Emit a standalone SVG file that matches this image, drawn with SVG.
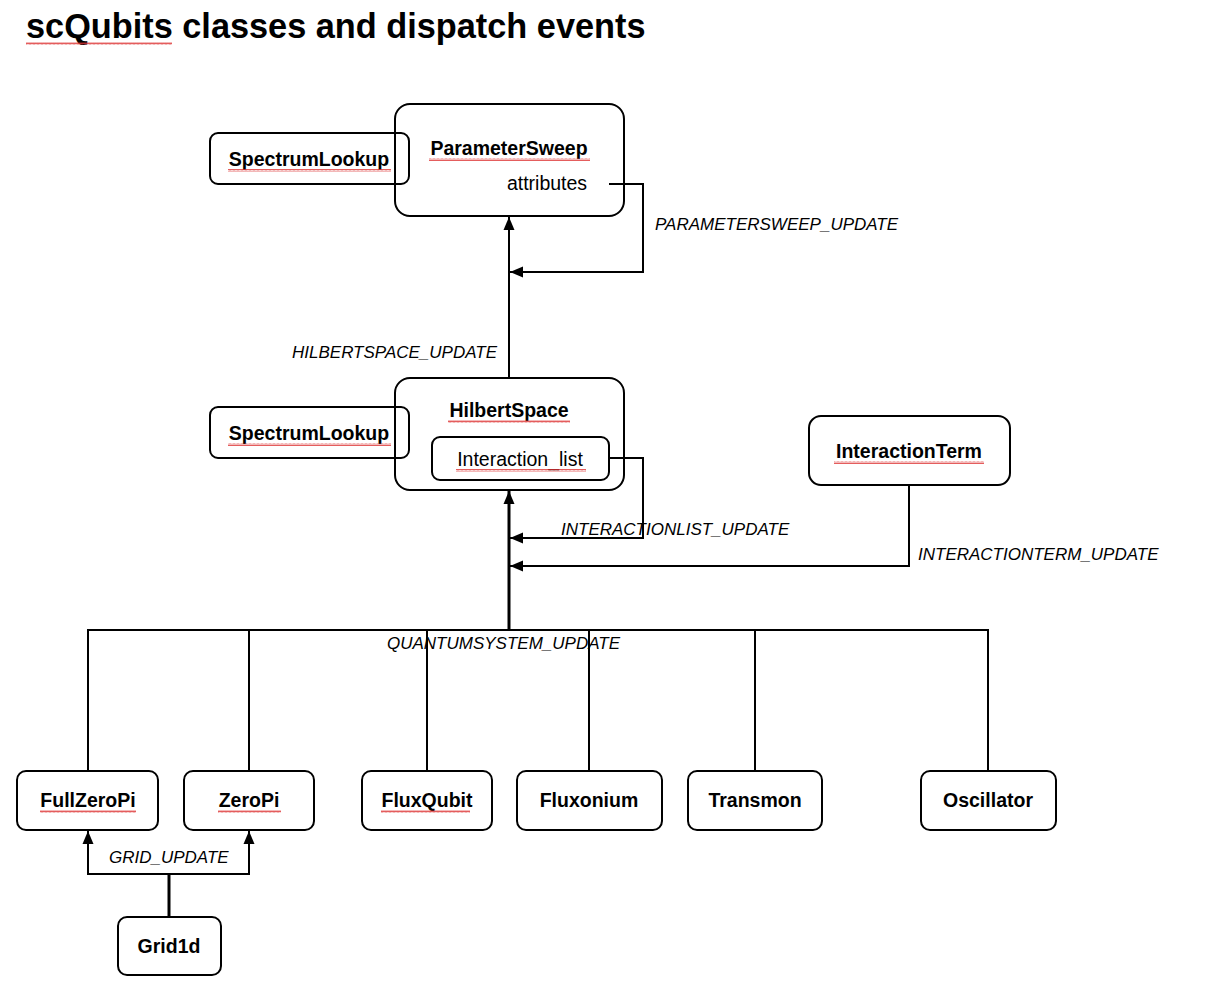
<svg xmlns="http://www.w3.org/2000/svg" width="1226" height="986" viewBox="0 0 1226 986">
<style>
.box{fill:none;stroke:#000;stroke-width:2}
.b{font-family:"Liberation Sans",Arial,sans-serif;font-weight:bold;font-size:19.5px;fill:#000;text-anchor:middle}
.r{font-family:"Liberation Sans",Arial,sans-serif;font-size:19.5px;fill:#000;text-anchor:middle}
.lbl{font-family:"Liberation Sans",Arial,sans-serif;font-style:italic;font-size:17px;fill:#000}
.c{fill:none;stroke:#000;stroke-width:2}
.trunk{fill:none;stroke:#000;stroke-width:3}
.sq{fill:url(#wave)}
</style>
<defs>
<marker id="ah" markerUnits="userSpaceOnUse" markerWidth="13" markerHeight="12" viewBox="0 0 13 12" refX="13" refY="6" orient="auto">
<path d="M0,0.5 L13,6 L0,11.5 Z" fill="#000"/>
</marker>
<pattern id="wave" patternUnits="userSpaceOnUse" width="4" height="3">
<path d="M0,2.5 L1,0.5 L2,2.5 L3,0.5 L4,2.5" fill="none" stroke="#d33" stroke-width="0.8"/>
</pattern>
</defs>
<rect width="1226" height="986" fill="#fff"/>
<text x="26" y="38" font-family="'Liberation Sans',Arial,sans-serif" font-weight="bold" font-size="34.3" fill="#000">scQubits classes and dispatch events</text>
<rect class="sq" x="26" y="42" width="146" height="3"/>

<g id="connectors">
<path class="c" d="M509,378 L509,217" marker-end="url(#ah)"/>
<path class="c" d="M609,184 L643,184 L643,272 L510,272" marker-end="url(#ah)"/>
<path class="c" d="M609,458 L643,458 L643,538 L510,538" marker-end="url(#ah)"/>
<path class="c" d="M909,485 L909,566 L510,566" marker-end="url(#ah)"/>
<path class="trunk" d="M509,630 L509,491" marker-end="url(#ah)"/>
<path class="c" d="M88,771 L88,630 L988,630 L988,771"/>
<path class="c" d="M249,630 L249,771 M427,630 L427,771 M589,630 L589,771 M755,630 L755,771"/>
<path class="trunk" d="M169,917 L169,874"/>
<path class="c" d="M169,874 L88,874 L88,831" marker-end="url(#ah)"/>
<path class="c" d="M169,874 L249,874 L249,831" marker-end="url(#ah)"/>
<text class="lbl" x="655" y="230">PARAMETERSWEEP_UPDATE</text>
<text class="lbl" x="292" y="358">HILBERTSPACE_UPDATE</text>
<text class="lbl" x="561" y="535">INTERACTIONLIST_UPDATE</text>
<text class="lbl" x="918" y="560">INTERACTIONTERM_UPDATE</text>
<text class="lbl" x="387" y="649">QUANTUMSYSTEM_UPDATE</text>
<text class="lbl" x="109" y="863">GRID_UPDATE</text>
</g>

<g id="ParameterSweep">
<rect class="box" x="395" y="104" width="229" height="112" rx="15"/>
<text class="b" x="509" y="155">ParameterSweep</text>
<rect class="sq" x="429" y="158" width="161" height="3"/>
<text class="r" x="547" y="190">attributes</text>
</g>
<g id="SpectrumLookup1">
<rect class="box" x="210" y="133" width="199" height="51" rx="8"/>
<text class="b" x="309" y="166">SpectrumLookup</text>
<rect class="sq" x="228" y="169" width="163" height="3"/>
</g>
<g id="HilbertSpace">
<rect class="box" x="395" y="378" width="229" height="112" rx="15"/>
<text class="b" x="509" y="417">HilbertSpace</text>
<rect class="sq" x="448" y="420" width="122" height="3"/>
</g>
<g id="Interaction_list">
<rect class="box" x="432" y="437" width="177" height="43" rx="8"/>
<text class="r" x="520" y="466">Interaction_list</text>
<rect class="sq" x="456" y="469" width="130" height="3"/>
</g>
<g id="SpectrumLookup2">
<rect class="box" x="210" y="407" width="199" height="51" rx="8"/>
<text class="b" x="309" y="440">SpectrumLookup</text>
<rect class="sq" x="228" y="443" width="163" height="3"/>
</g>
<g id="InteractionTerm">
<rect class="box" x="809" y="416" width="201" height="69" rx="12"/>
<text class="b" x="909" y="458">InteractionTerm</text>
<rect class="sq" x="834" y="461" width="150" height="3"/>
</g>
<g id="FullZeroPi">
<rect class="box" x="17" y="771" width="141" height="59" rx="9"/>
<text class="b" x="88" y="807">FullZeroPi</text>
<rect class="sq" x="40" y="810" width="96" height="3"/>
</g>
<g id="ZeroPi">
<rect class="box" x="184" y="771" width="130" height="59" rx="9"/>
<text class="b" x="249" y="807">ZeroPi</text>
<rect class="sq" x="218" y="810" width="63" height="3"/>
</g>
<g id="FluxQubit">
<rect class="box" x="362" y="771" width="130" height="59" rx="9"/>
<text class="b" x="427" y="807">FluxQubit</text>
<rect class="sq" x="381" y="810" width="89" height="3"/>
</g>
<g id="Fluxonium">
<rect class="box" x="517" y="771" width="145" height="59" rx="9"/>
<text class="b" x="589" y="807">Fluxonium</text>
</g>
<g id="Transmon">
<rect class="box" x="688" y="771" width="134" height="59" rx="9"/>
<text class="b" x="755" y="807">Transmon</text>
</g>
<g id="Oscillator">
<rect class="box" x="921" y="771" width="135" height="59" rx="9"/>
<text class="b" x="988" y="807">Oscillator</text>
</g>
<g id="Grid1d">
<rect class="box" x="118" y="917" width="103" height="58" rx="9"/>
<text class="b" x="169" y="953">Grid1d</text>
</g>
</svg>
